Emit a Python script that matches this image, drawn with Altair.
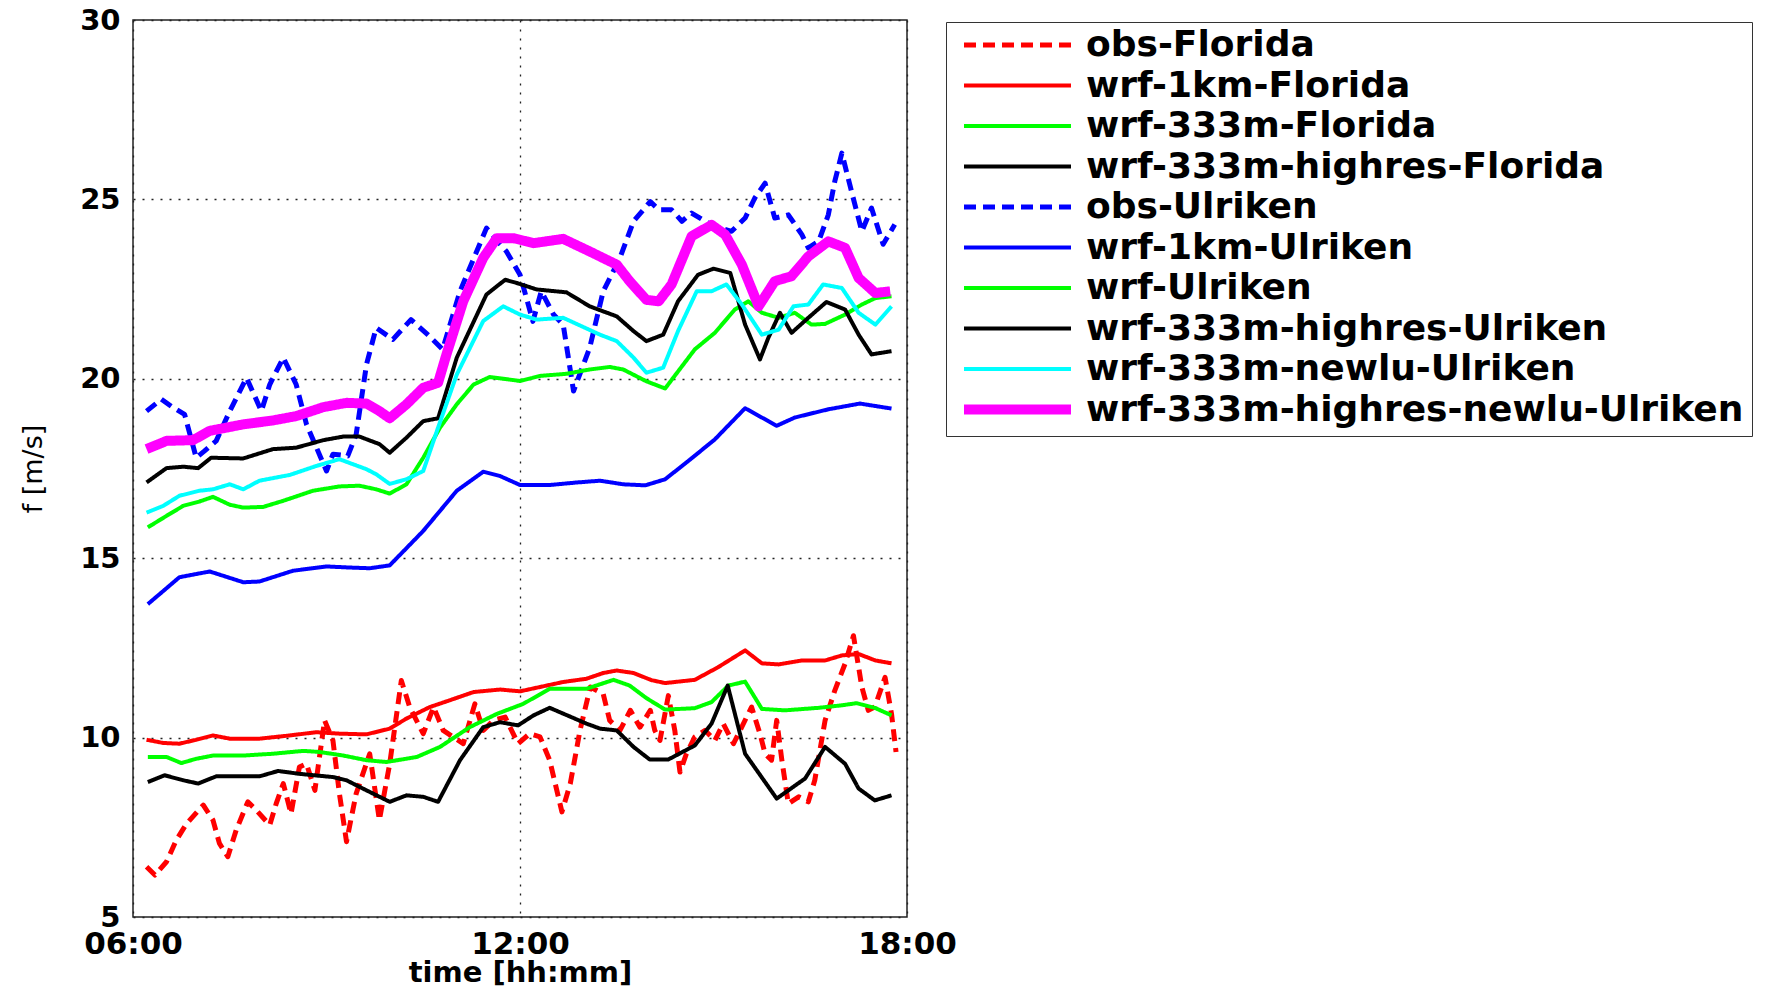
import altair as alt
import pandas as pd

names = [
    "obs-Florida", "wrf-1km-Florida", "wrf-333m-Florida", "wrf-333m-highres-Florida",
    "obs-Ulriken", "wrf-1km-Ulriken", "wrf-Ulriken", "wrf-333m-highres-Ulriken",
    "wrf-333m-newlu-Ulriken", "wrf-333m-highres-newlu-Ulriken",
]
colors = ["#ff0000", "#ff0000", "#00ff00", "#000000", "#0000ff",
          "#0000ff", "#00ff00", "#000000", "#00ffff", "#ff00ff"]
dashes = [[12, 7], [1, 0], [1, 0], [1, 0], [12, 7],
          [1, 0], [1, 0], [1, 0], [1, 0], [1, 0]]
widths = [5, 4, 4, 4, 5, 4, 4, 4, 4, 10]

# time in hours, wind speed in m/s
obs_florida_t = [6.21, 6.34, 6.52, 6.67, 6.83, 7.09, 7.24, 7.34, 7.47, 7.6, 7.78, 7.91, 8.12, 8.22, 8.33,
                 8.45, 8.58, 8.69, 8.82, 8.97, 9.1, 9.2, 9.31, 9.46, 9.67, 9.82, 9.98, 10.16, 10.29, 10.5,
                 10.66, 10.81, 11.12, 11.3, 11.43, 11.59, 11.77, 11.97, 12.15, 12.31, 12.46, 12.65, 12.78,
                 12.93, 13.09, 13.29, 13.39, 13.55, 13.71, 13.86, 14.02, 14.09, 14.17, 14.3, 14.4, 14.48,
                 14.58, 14.71, 14.87, 15.02, 15.15, 15.31, 15.59, 15.72, 15.8, 15.9, 15.98, 16.06, 16.16,
                 16.32, 16.47, 16.57, 16.73, 16.88, 17.04, 17.17, 17.3, 17.4, 17.5, 17.66, 17.76, 17.83]
obs_florida_v = [6.4, 6.17, 6.54, 7.14, 7.6, 8.12, 7.7, 7.05, 6.68, 7.42, 8.21, 7.98, 7.56, 8.16, 8.72,
                 7.88, 9.18, 9.27, 8.53, 10.48, 9.92, 8.44, 7.1, 8.44, 9.55, 7.7, 9.27, 11.59, 10.85, 10.11,
                 10.85, 10.2, 9.83, 10.94, 10.2, 10.48, 10.57, 9.83, 10.11, 10.02, 9.37, 7.93, 8.72,
                 10.2, 11.41, 11.22, 10.48, 10.2, 10.76, 10.29, 10.76, 10.2, 9.92, 11.17, 10.2, 9.04,
                 9.55, 10.02, 10.2, 9.92, 10.39, 9.83, 10.85, 10.11, 9.55, 9.37, 10.48, 9.37, 8.16,
                 8.35, 8.21, 8.81, 10.48, 11.31, 12.06, 12.84, 11.41, 10.76, 10.85, 11.68, 10.66, 9.6]

wrf1_florida_t = [6.21, 6.47, 6.72, 6.98, 7.24, 7.5, 7.96, 8.43, 8.84, 9.2, 9.62, 9.98, 10.24, 10.6, 10.91,
                  11.28, 11.69, 12.0, 12.31, 12.67, 13.03, 13.29, 13.5, 13.76, 14.04, 14.25, 14.71, 15.07,
                  15.49, 15.75, 16.01, 16.37, 16.73, 16.99, 17.25, 17.51, 17.76]
wrf1_florida_v = [9.94, 9.85, 9.83, 9.94, 10.06, 9.97, 9.97, 10.06, 10.15, 10.11, 10.09, 10.25, 10.53, 10.85,
                  11.04, 11.27, 11.34, 11.29, 11.41, 11.55, 11.64, 11.8, 11.87, 11.8, 11.6, 11.52, 11.61,
                  11.96, 12.43, 12.07, 12.04, 12.15, 12.15, 12.29, 12.33, 12.15, 12.07]

wrf333_florida_t = [6.23, 6.52, 6.75, 6.98, 7.24, 7.71, 8.17, 8.64, 8.89, 9.26, 9.62, 9.93, 10.4, 10.76,
                    11.22, 11.64, 12.05, 12.46, 13.03, 13.45, 13.7, 13.96, 14.25, 14.71, 14.97, 15.23,
                    15.49, 15.75, 16.11, 16.63, 16.99, 17.22, 17.5, 17.76]
wrf333_florida_v = [9.46, 9.46, 9.29, 9.41, 9.5, 9.5, 9.55, 9.63, 9.6, 9.5, 9.37, 9.32, 9.46, 9.74,
                    10.29, 10.66, 10.94, 11.36, 11.36, 11.61, 11.45, 11.1, 10.78, 10.82, 10.99, 11.45,
                    11.56, 10.8, 10.76, 10.83, 10.9, 10.96, 10.83, 10.62]

hr_florida_t = [6.23, 6.49, 6.78, 7.01, 7.29, 7.96, 8.25, 8.58, 9.1, 9.31, 9.62, 9.98, 10.24, 10.5, 10.73,
                11.07, 11.43, 11.69, 11.97, 12.21, 12.46, 13.03, 13.24, 13.5, 13.76, 14.01, 14.3, 14.71,
                14.97, 15.22, 15.49, 15.98, 16.42, 16.73, 17.04, 17.25, 17.5, 17.76]
hr_florida_v = [8.76, 8.95, 8.81, 8.72, 8.92, 8.92, 9.07, 8.99, 8.9, 8.81, 8.53, 8.21, 8.39, 8.35, 8.21,
                9.37, 10.29, 10.43, 10.34, 10.62, 10.83, 10.39, 10.25, 10.2, 9.74, 9.39, 9.39, 9.78,
                10.39, 11.45, 9.55, 8.3, 8.86, 9.74, 9.27, 8.58, 8.25, 8.39]

obs_ulriken_t = [6.21, 6.44, 6.62, 6.8, 6.98, 7.11, 7.29, 7.5, 7.76, 7.99, 8.12, 8.33, 8.53, 8.69, 9.0,
                 9.1, 9.33, 9.46, 9.62, 9.77, 10.03, 10.31, 10.57, 10.8, 11.07, 11.48, 11.79, 12.0, 12.2,
                 12.33, 12.52, 12.67, 12.83, 13.08, 13.29, 13.55, 13.76, 14.02, 14.15, 14.35, 14.51,
                 14.66, 14.87, 15.02, 15.28, 15.49, 15.64, 15.8, 15.95, 16.16, 16.37, 16.47, 16.63,
                 16.78, 16.88, 16.99, 17.14, 17.3, 17.45, 17.63, 17.81]
obs_ulriken_v = [19.1, 19.43, 19.2, 19.01, 17.8, 17.99, 18.27, 19.1, 20.03, 19.1, 19.84, 20.59, 19.84, 18.73,
                 17.43, 17.9, 17.85, 18.45, 20.4, 21.42, 21.1, 21.65, 21.23, 20.82, 22.44, 24.2, 23.55,
                 22.9, 21.6, 22.44, 21.79, 21.51, 19.66, 20.86, 22.44, 23.37, 24.39, 24.94, 24.71, 24.71,
                 24.39, 24.62, 24.39, 24.25, 24.11, 24.48, 25.04, 25.45, 24.48, 24.57, 24.02, 23.65,
                 23.83, 24.57, 25.5, 26.29, 25.22, 24.11, 24.76, 23.75, 24.3]

wrf1_ulriken_t = [6.23, 6.72, 7.19, 7.71, 7.96, 8.48, 9.0, 9.36, 9.67, 9.98, 10.5, 11.02, 11.43, 11.69,
                  12.0, 12.46, 12.88, 13.24, 13.6, 13.94, 14.25, 14.61, 15.02, 15.49, 15.98, 16.26,
                  16.78, 17.27, 17.76]
wrf1_ulriken_v = [13.72, 14.47, 14.63, 14.33, 14.35, 14.65, 14.77, 14.74, 14.72, 14.8, 15.76, 16.88, 17.41,
                  17.29, 17.04, 17.04, 17.11, 17.16, 17.06, 17.03, 17.2, 17.71, 18.31, 19.18, 18.69,
                  18.92, 19.15, 19.31, 19.17]

wrf_ulriken_t = [6.23, 6.52, 6.78, 7.03, 7.24, 7.5, 7.71, 8.02, 8.33, 8.79, 9.2, 9.51, 9.77, 9.98, 10.24,
                 10.5, 10.76, 11.02, 11.28, 11.53, 12.0, 12.31, 12.72, 13.08, 13.39, 13.6, 13.96, 14.25,
                 14.71, 15.02, 15.33, 15.54, 15.75, 16.01, 16.26, 16.52, 16.73, 17.04, 17.3, 17.51, 17.76]
wrf_ulriken_v = [15.86, 16.18, 16.46, 16.58, 16.71, 16.49, 16.41, 16.43, 16.6, 16.88, 17.0, 17.02, 16.92,
                 16.8, 17.06, 17.8, 18.64, 19.29, 19.84, 20.05, 19.94, 20.08, 20.14, 20.26, 20.33, 20.26,
                 19.93, 19.73, 20.82, 21.28, 21.93, 22.16, 21.84, 21.7, 21.84, 21.51, 21.53, 21.79,
                 22.07, 22.25, 22.3]

hr_ulriken_t = [6.21, 6.52, 6.78, 7.01, 7.21, 7.71, 8.17, 8.53, 8.95, 9.26, 9.51, 9.82, 9.98, 10.24, 10.5,
                10.73, 11.02, 11.48, 11.77, 11.95, 12.26, 12.72, 13.08, 13.5, 13.76, 13.96, 14.22, 14.45,
                14.76, 15.0, 15.26, 15.49, 15.72, 15.85, 16.03, 16.21, 16.47, 16.75, 17.04, 17.25, 17.45,
                17.76]
hr_ulriken_v = [17.11, 17.51, 17.55, 17.51, 17.8, 17.78, 18.04, 18.08, 18.29, 18.39, 18.39, 18.18, 17.94,
                18.36, 18.82, 18.9, 20.59, 22.35, 22.76, 22.67, 22.49, 22.41, 22.02, 21.74, 21.33, 21.05,
                21.23, 22.16, 22.9, 23.07, 22.95, 21.51, 20.54, 21.14, 21.84, 21.28, 21.7, 22.14, 21.93,
                21.23, 20.68, 20.77]

newlu_ulriken_t = [6.21, 6.47, 6.72, 7.03, 7.24, 7.5, 7.71, 7.96, 8.43, 8.84, 9.2, 9.62, 9.77, 9.98, 10.24,
                   10.5, 10.73, 11.02, 11.43, 11.74, 12.0, 12.26, 12.67, 13.24, 13.5, 13.76, 13.96, 14.22,
                   14.45, 14.74, 14.97, 15.2, 15.44, 15.75, 16.01, 16.24, 16.47, 16.7, 16.99, 17.25,
                   17.51, 17.76]
newlu_ulriken_v = [16.27, 16.46, 16.74, 16.88, 16.92, 17.06, 16.92, 17.16, 17.32, 17.57, 17.76, 17.48, 17.34,
                   17.07, 17.2, 17.43, 18.64, 20.12, 21.61, 22.02, 21.79, 21.65, 21.7, 21.23, 21.05, 20.59,
                   20.17, 20.31, 21.33, 22.44, 22.44, 22.63, 22.07, 21.23, 21.37, 22.02, 22.07, 22.63,
                   22.53, 21.84, 21.51, 22.02]

hrnewlu_ulriken_t = [6.21, 6.52, 6.93, 7.19, 7.71, 8.17, 8.53, 8.95, 9.31, 9.62, 9.82, 9.98, 10.24, 10.5,
                     10.73, 10.86, 11.12, 11.43, 11.64, 11.9, 12.21, 12.67, 13.08, 13.5, 13.7, 13.96, 14.15,
                     14.35, 14.66, 14.97, 15.18, 15.44, 15.7, 15.95, 16.21, 16.47, 16.78, 17.04, 17.25,
                     17.51, 17.74]
hrnewlu_ulriken_v = [18.04, 18.27, 18.29, 18.55, 18.73, 18.84, 18.96, 19.21, 19.33, 19.31, 19.1, 18.9, 19.29,
                     19.75, 19.89, 20.68, 22.16, 23.37, 23.92, 23.92, 23.78, 23.9, 23.55, 23.18, 22.72,
                     22.2, 22.16, 22.63, 23.97, 24.29, 24.02, 23.18, 22.02, 22.72, 22.86, 23.41, 23.83,
                     23.65, 22.81, 22.39, 22.44]

series_t = [obs_florida_t, wrf1_florida_t, wrf333_florida_t, hr_florida_t, obs_ulriken_t,
            wrf1_ulriken_t, wrf_ulriken_t, hr_ulriken_t, newlu_ulriken_t, hrnewlu_ulriken_t]
series_v = [obs_florida_v, wrf1_florida_v, wrf333_florida_v, hr_florida_v, obs_ulriken_v,
            wrf1_ulriken_v, wrf_ulriken_v, hr_ulriken_v, newlu_ulriken_v, hrnewlu_ulriken_v]

rows = []
for k, (name, ts, vs) in enumerate(zip(names, series_t, series_v)):
    for i, (t, v) in enumerate(zip(ts, vs)):
        rows.append({"series": name, "order": k, "i": i, "t": t, "v": v})
df = pd.DataFrame(rows)

legend = alt.Legend(
    orient="none", legendX=813, legendY=2, direction="vertical",
    symbolType="stroke", symbolSize=11449, clipHeight=30, symbolOffset=5,
    labelFont="DejaVu Sans", labelFontSize=36, labelFontWeight="bold",
    labelColor="black", labelLimit=1000, labelOffset=10, rowPadding=4.5,
    padding=8, strokeColor="#333333", fillColor="white",
)

chart = alt.Chart(df).mark_line(strokeCap="butt", strokeJoin="round").encode(
    x=alt.X("t:Q", scale=alt.Scale(domain=[6, 18], nice=False, zero=False),
            axis=alt.Axis(values=[6, 12, 18],
                          labelExpr="(datum.value < 10 ? '0' : '') + datum.value + ':00'",
                          labelFlush=False, labelOverlap=False,
                          labelFont="DejaVu Sans", labelFontWeight="bold", labelFontSize=31,
                          labelColor="black", labelPadding=12, tickSize=0, domain=False,
                          grid=True, gridDash=[2, 7], gridColor="#222222", gridWidth=1.3,
                          title="time [hh:mm]", titleFont="DejaVu Sans", titleFontSize=29,
                          titleFontWeight="bold", titleColor="black",
                          titleBaseline="alphabetic", titleY=64)),
    y=alt.Y("v:Q", scale=alt.Scale(domain=[5, 30], nice=False, zero=False),
            axis=alt.Axis(values=[5, 10, 15, 20, 25, 30], format="d",
                          labelFont="DejaVu Sans", labelFontWeight="bold", labelFontSize=29,
                          labelColor="black", labelPadding=13, tickSize=0, domain=False,
                          grid=True, gridDash=[2, 7], gridColor="#222222", gridWidth=1.3,
                          title="f [m/s]", titleFont="DejaVu Sans", titleFontSize=27,
                          titleFontWeight="normal", titleColor="black", titlePadding=32)),
    color=alt.Color("series:N", scale=alt.Scale(domain=names, range=colors), legend=legend, title=None),
    strokeDash=alt.StrokeDash("series:N", scale=alt.Scale(domain=names, range=dashes), legend=legend, title=None),
    strokeWidth=alt.StrokeWidth("series:N", scale=alt.Scale(type="ordinal", domain=names, range=widths),
                                legend=legend, title=None),
    order=alt.Order("i:Q"),
).properties(
    width=774, height=897,
    autosize=alt.AutoSizeParams(type="none"),
    padding={"left": 125, "top": 12, "right": 855, "bottom": 70},
).configure_view(
    stroke="#222222", strokeWidth=1.5
)

chart.save("out.html", embed_options={"renderer": "svg", "actions": False})
